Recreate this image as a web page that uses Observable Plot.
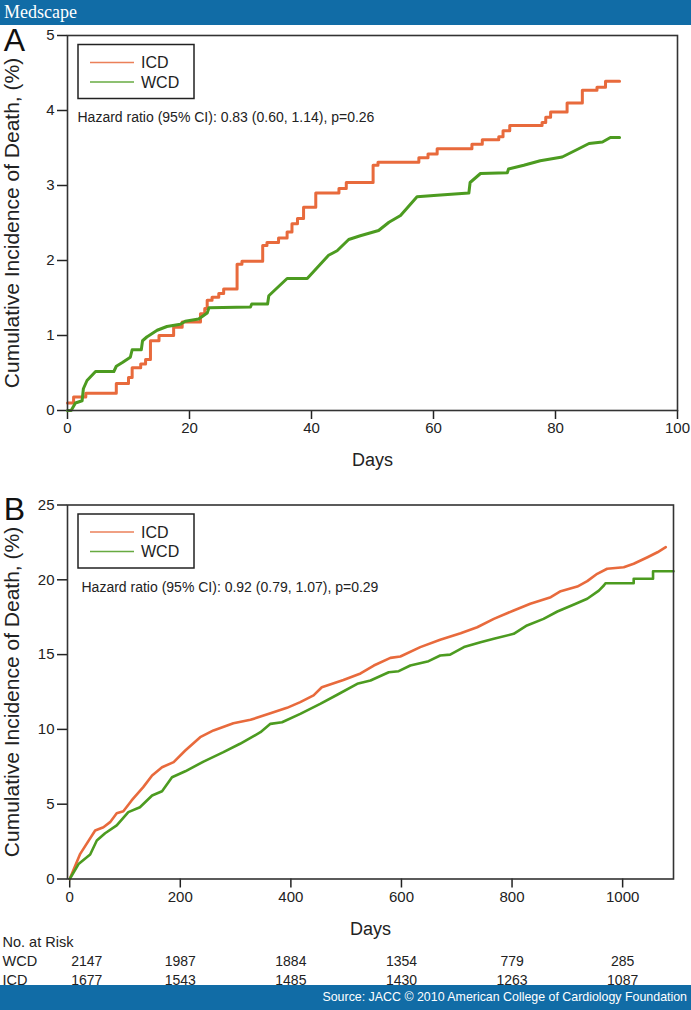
<!DOCTYPE html>
<html><head><meta charset="utf-8">
<script src="https://cdn.jsdelivr.net/npm/d3@7"></script>
<script src="https://cdn.jsdelivr.net/npm/@observablehq/plot@0.6"></script>
<style>
body{margin:0;background:#fff;}
#page{position:relative;width:691px;height:1010px;overflow:hidden;font-family:"Liberation Sans",Arial,sans-serif;background:#fff;}
#hdr{position:absolute;left:0;top:0;width:691px;height:25px;background:#116ca6;color:#fff;font-family:"Liberation Serif","Times New Roman",serif;font-size:18px;line-height:25px;padding-left:4px;box-sizing:border-box;z-index:5;}
#ftr{position:absolute;left:0;top:985px;width:691px;height:25px;background:#116ca6;color:#fff;font-size:12.4px;line-height:25px;text-align:right;box-sizing:border-box;padding-right:4px;z-index:5;}
#a{position:absolute;left:0;top:25px;}
#b{position:absolute;left:0;top:475px;}
#t{position:absolute;left:0;top:930px;}
svg{display:block;overflow:visible;}
</style></head><body>
<div id="page">
<div id="hdr">Medscape</div>
<div id="a"></div><div id="b"></div><div id="t"></div>
<div id="ftr">Source: JACC © 2010 American College of Cardiology Foundation</div>
</div>
<script>
// ---------- DATA ----------
const seriesNames = ["ICD", "WCD"];
const colors = {ICD: "#e86a3c", WCD: "#4c9b20"};
const yLabel = "Cumulative Incidence of Death, (%)";
const xLabel = "Days";

// Panel A (90-day follow-up), percent
const icdA_days = [0,1,3,8,10,10.6,12,12.8,13.6,15,17.4,18.8,21.8,22.5,22.9,23.7,24.8,25.6,27.8,28.6,32,32.7,34.6,36,36.8,37.7,38.7,40.7,44.5,45.7,50.1,50.9,57.6,59.1,60.6,66.3,68,70.7,71.4,72.5,77.8,78.4,79.2,81.9,84.4,86.8,88.2,90.5];
const icdA_vals = [0.1,0.18,0.23,0.36,0.44,0.57,0.62,0.68,0.93,1.0,1.11,1.18,1.29,1.36,1.47,1.51,1.56,1.62,1.95,1.99,2.2,2.24,2.3,2.38,2.49,2.56,2.71,2.9,2.96,3.04,3.27,3.31,3.37,3.42,3.49,3.55,3.61,3.65,3.73,3.8,3.84,3.91,3.98,4.1,4.27,4.31,4.39,4.39];
const wcdA_days = [0,0.6,1.3,2.4,2.6,3.2,4.6,7.6,8,9,10.3,10.6,12.1,12.3,13,14.7,16.3,18.5,19.3,21.5,22.9,23.2,30,30.2,32.8,33,36,39.3,42.8,44.2,46.1,48,51,52.7,54.6,57.3,60.6,65.8,66,67.7,72.1,72.3,74.8,77.5,81.1,83.8,85.5,87.7,89,90.5];
const wcdA_vals = [0,0,0.1,0.13,0.29,0.4,0.52,0.52,0.59,0.64,0.71,0.81,0.81,0.93,0.98,1.07,1.12,1.15,1.19,1.22,1.3,1.37,1.38,1.42,1.42,1.53,1.76,1.76,2.07,2.13,2.28,2.33,2.4,2.51,2.6,2.85,2.87,2.9,3.04,3.16,3.17,3.22,3.27,3.33,3.38,3.49,3.56,3.58,3.64,3.64];
const hazardA = "Hazard ratio (95% CI): 0.83 (0.60, 1.14), p=0.26";

// Panel B (long-term follow-up), percent
const icdB_days = [0,19,46,61,73,85,97,112,133,149,167,188,209,236,260,296,327,363,393,417,441,456,495,526,550,580,598,634,670,707,737,767,803,833,870,888,918,936,954,972,1002,1020,1045,1063,1078];
const icdB_vals = [0,1.68,3.24,3.46,3.8,4.4,4.53,5.25,6.14,6.92,7.47,7.81,8.59,9.48,9.93,10.41,10.64,11.08,11.44,11.82,12.27,12.82,13.3,13.74,14.27,14.78,14.87,15.5,15.99,16.43,16.83,17.39,17.95,18.4,18.84,19.24,19.55,19.91,20.4,20.74,20.84,21.07,21.51,21.84,22.18];
const wcdB_days = [0,16,37,49,64,85,106,127,149,167,185,209,242,278,308,345,363,384,417,453,483,520,544,577,595,616,649,670,688,713,743,767,803,827,857,882,912,936,957,966,969,1020,1020,1055,1055,1092];
const wcdB_vals = [0,1.0,1.64,2.57,3.06,3.58,4.47,4.8,5.58,5.87,6.8,7.2,7.85,8.48,9.04,9.81,10.37,10.48,11.04,11.71,12.3,13.05,13.27,13.82,13.89,14.27,14.56,14.94,15.0,15.5,15.83,16.06,16.39,16.95,17.39,17.88,18.35,18.73,19.28,19.62,19.77,19.77,20.07,20.07,20.57,20.57];
const hazardB = "Hazard ratio (95% CI): 0.92 (0.79, 1.07), p=0.29";

// Axis ticks
const xTicksA = [0,20,40,60,80,100];
const yTicksA = [0,1,2,3,4,5];
const xTicksB = [0,200,400,600,800,1000];
const yTicksB = [0,5,10,15,20,25];

// Number at risk
const riskTitle = "No. at Risk";
const riskDays = [0,200,400,600,800,1000];
const riskWCD = [2147,1987,1884,1354,779,285];
const riskICD = [1677,1543,1485,1430,1263,1087];

// ---------- BUILD ----------
const W = 691;
const FONT = "'Liberation Sans', Arial, Helvetica, sans-serif";
const toRows = (days, vals) => days.map((d, i) => ({day: d, val: vals[i]}));
const fmt = d => String(d);

function panel(o) {
  const chart = Plot.plot({
    width: W, height: o.height,
    marginTop: o.mt, marginBottom: o.mb, marginLeft: 67, marginRight: o.mr,
    style: {fontFamily: FONT, fontSize: "15px", color: "#222", background: "white", overflow: "visible"},
    x: {domain: o.xDomain},
    y: {domain: o.yDomain},
    marks: [
      Plot.axisX({ticks: o.xTicks, tickFormat: fmt, tickSize: 9, tickPadding: 3, fontSize: 15, label: null, strokeWidth: 1.5}),
      Plot.axisY({ticks: o.yTicks, tickFormat: fmt, tickSize: 10, tickPadding: 3, fontSize: 15, label: null, strokeWidth: 1.5}),
      Plot.line(o.icd, {x: "day", y: "val", stroke: colors.ICD, strokeWidth: o.sw, curve: o.curveICD}),
      Plot.line(o.wcd, {x: "day", y: "val", stroke: colors.WCD, strokeWidth: o.sw, curve: o.curveWCD}),
      Plot.frame({stroke: "#333", strokeWidth: 1.6}),
      Plot.text([o.hazard], {frameAnchor: "top-left", dx: o.hdx, dy: o.hdy, textAnchor: "start", lineAnchor: "middle", fontSize: 14, fill: "#222"}),
      Plot.text([xLabel], {frameAnchor: "bottom", dy: 50, textAnchor: "middle", lineAnchor: "middle", fontSize: 18, fill: "#222"}),
      Plot.text([yLabel], {frameAnchor: "left", dx: -55, rotate: -90, textAnchor: "middle", lineAnchor: "middle", fontSize: 21, fill: "#222"}),
      Plot.text([o.letter], {frameAnchor: "top-left", dx: -53, dy: 5, textAnchor: "middle", lineAnchor: "middle", fontSize: 32, fill: "#111"})
    ]
  });
  // legend box
  const svg = d3.select(chart);
  const L = 67 + 11, T = o.mt + 9.5;
  const g = svg.append("g");
  g.append("rect").attr("x", L).attr("y", T).attr("width", 116).attr("height", 54)
    .attr("fill", "white").attr("stroke", "#222").attr("stroke-width", 1.5);
  seriesNames.forEach((s, i) => {
    const yy = T + 18 + i * 19.5;
    g.append("line").attr("x1", L + 12).attr("x2", L + 56).attr("y1", yy).attr("y2", yy)
      .attr("stroke", colors[s]).attr("stroke-width", 1.6).attr("stroke-opacity", 0.85);
    g.append("text").attr("x", L + 63).attr("y", yy).attr("dy", "0.36em")
      .attr("text-anchor", "start")
      .attr("font-size", 16).attr("font-family", FONT).attr("fill", "#222").text(s);
  });
  return chart;
}

document.getElementById("a").append(panel({
  letter: "A", height: 450, mt: 10, mb: 65, mr: 14,
  xDomain: [0, 100], yDomain: [0, 5], xTicks: xTicksA, yTicks: yTicksA,
  icd: toRows(icdA_days, icdA_vals), wcd: toRows(wcdA_days, wcdA_vals),
  curveICD: "step-after", curveWCD: "linear", sw: 3,
  hazard: hazardA, hdx: 10, hdy: 82
}));

document.getElementById("b").append(panel({
  letter: "B", height: 470, mt: 29.5, mb: 66.5, mr: 18,
  xDomain: [-4, 1092], yDomain: [0, 25], xTicks: xTicksB, yTicks: yTicksB,
  icd: toRows(icdB_days, icdB_vals), wcd: toRows(wcdB_days, wcdB_vals),
  curveICD: "linear", curveWCD: "linear", sw: 2.6,
  hazard: hazardB, hdx: 14, hdy: 83
}));

// Number-at-risk table
const rowNames = [riskTitle, "WCD", "ICD"];
const riskRows = [];
riskDays.forEach((d, i) => {
  riskRows.push({day: d, row: "WCD", n: String(riskWCD[i]), first: i === 0});
  riskRows.push({day: d, row: "ICD", n: String(riskICD[i]), first: i === 0});
});
const tbl = Plot.plot({
  width: W, height: 55, marginTop: 0, marginBottom: 0, marginLeft: 67, marginRight: 18,
  style: {fontFamily: FONT, color: "#222", background: "transparent", overflow: "visible"},
  x: {domain: [-4, 1092], axis: null},
  y: {type: "point", domain: rowNames, range: [11, 50], padding: 0, axis: null},
  marks: [
    Plot.text(rowNames, {y: d => d, frameAnchor: "left", dx: -65, textAnchor: "start", lineAnchor: "middle", fontSize: 14.5, fill: "#222"}),
    Plot.text(riskRows.filter(r => r.first), {x: "day", y: "row", text: "n", dx: 17, lineAnchor: "middle", fontSize: 14, fill: "#222"}),
    Plot.text(riskRows.filter(r => !r.first), {x: "day", y: "row", text: "n", lineAnchor: "middle", fontSize: 14, fill: "#222"})
  ]
});
document.getElementById("t").append(tbl);
</script>
</body></html>
